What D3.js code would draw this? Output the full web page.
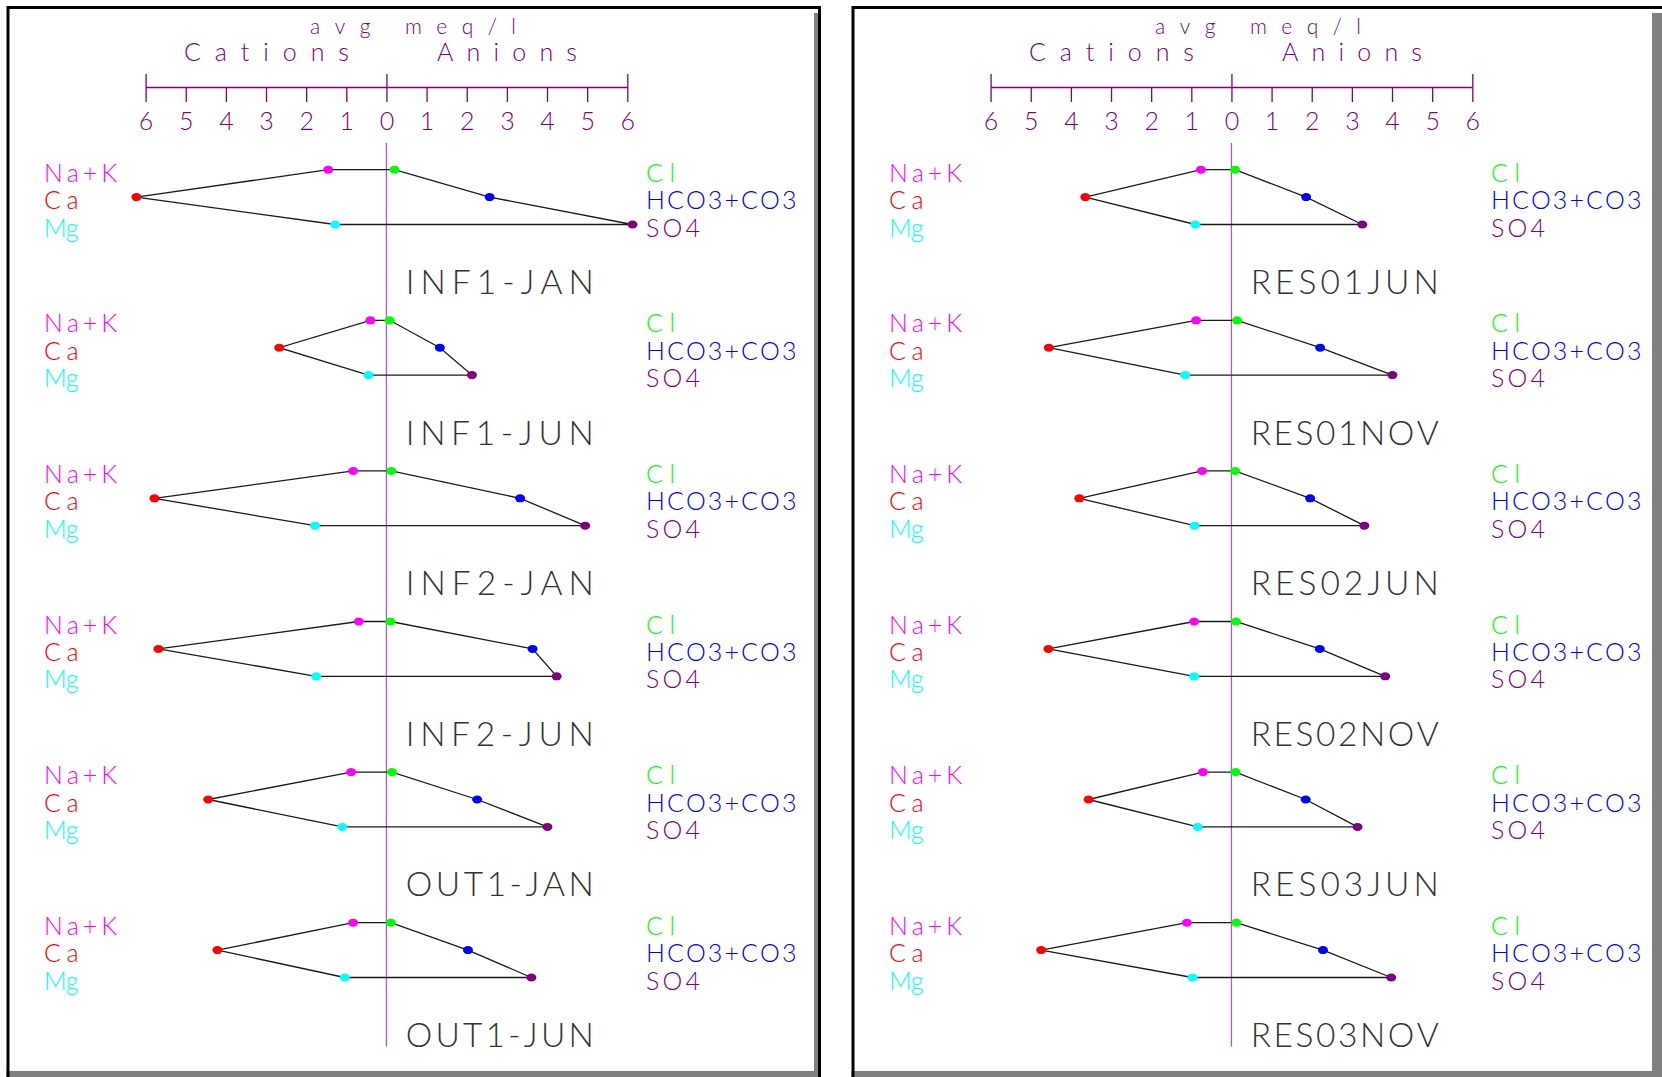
<!DOCTYPE html>
<html>
<head>
<meta charset="utf-8">
<script src="https://cdn.jsdelivr.net/npm/d3@7"></script>
<style>
  html, body { margin: 0; padding: 0; background: #fff; }
  svg { display: block; }
  text { font-family: "Lato", "DejaVu Sans", sans-serif; font-weight: 300; font-variant-ligatures: none; font-feature-settings: "liga" 0, "kern" 0; }
</style>
</head>
<body>
<script>
// Sample names, one list per panel (top to bottom)
const leftSamples  = ["INF1-JAN", "INF1-JUN", "INF2-JAN", "INF2-JUN", "OUT1-JAN", "OUT1-JUN"];
const rightSamples = ["RES01JUN", "RES01NOV", "RES02JUN", "RES02NOV", "RES03JUN", "RES03NOV"];

// Average concentrations, meq/l (left panel samples, then right panel samples)
const naK  = [1.45, 0.40, 0.83, 0.69, 0.88, 0.83,   0.76, 0.88, 0.73, 0.93, 0.71, 1.11];
const ca   = [6.23, 2.67, 5.78, 5.68, 4.44, 4.21,   3.64, 4.55, 3.79, 4.56, 3.56, 4.74];
const mg   = [1.28, 0.45, 1.78, 1.75, 1.10, 1.04,   0.90, 1.15, 0.92, 0.93, 0.84, 0.97];
const cl   = [0.20, 0.08, 0.12, 0.10, 0.14, 0.11,   0.09, 0.14, 0.09, 0.11, 0.10, 0.12];
const hco3 = [2.57, 1.33, 3.33, 3.64, 2.26, 2.03,   1.86, 2.21, 1.96, 2.20, 1.85, 2.28];
const so4  = [6.13, 2.13, 4.95, 4.24, 4.01, 3.61,   3.26, 4.01, 3.31, 3.83, 3.14, 3.98];

// Axis ticks (cations to the left, anions to the right)
const tickValues = [-6, -5, -4, -3, -2, -1, 0, 1, 2, 3, 4, 5, 6];
const majorTicks = [-6, 0, 6];

// Ion labels and colours
const cationLabels = ["Na+K", "Ca", "Mg"];
const anionLabels  = ["Cl", "HCO3+CO3", "SO4"];
const cationColors = ["#ff00ff", "#ff0000", "#00ffff"];
const anionColors  = ["#00ff00", "#0000ff", "#800080"];
const levels = ["top", "mid", "bot"];

const W = 1662, H = 1077;
const axisColor = "#800080";

const svg = d3.select("body").append("svg")
  .attr("width", W).attr("height", H)
  .style("background", "#fff");

const panels = [
  { samples: leftSamples,  offset: 0, dx: 0,   right: 821,  shadowX: 814, shadowW: 5 },
  { samples: rightSamples, offset: 6, dx: 845, right: null, shadowX: 807, shadowW: 10 }
];

// Shared scales (panel-local coordinates)
const x = d3.scaleLinear().domain([-6, 6]).range([145.6, 627.3]);
const rowY = d3.scaleLinear().domain([0, 5]).range([169.7, 922.7]);
const levelY = d3.scalePoint().domain(levels).range([0, 54.8]);

const polygon = d3.line()
  .x(d => x(d[0]))
  .y(d => d[1])
  .curve(d3.curveLinearClosed);

function spacedText(sel, str, width) {
  return sel.append("text").text(str)
    .attr("textLength", width).attr("lengthAdjust", "spacing");
}

panels.forEach(p => {
  const g = svg.append("g").attr("transform", `translate(${p.dx},0)`);

  // Frame: grey shadow on the inner right and bottom, black outline
  g.append("rect").attr("x", p.shadowX).attr("y", 13)
    .attr("width", p.shadowW).attr("height", H - 13).attr("fill", "#808080");
  g.append("rect").attr("x", 6.5).attr("y", 1071)
    .attr("width", p.shadowX + p.shadowW - 6.5).attr("height", 6).attr("fill", "#808080");
  const frameRight = p.right === null ? (W - p.dx + 4) : p.right;
  g.append("path")
    .attr("d", `M8,${H} L8,7.5 L${frameRight - 1.5},7.5 L${frameRight - 1.5},${H}`)
    .attr("fill", "none").attr("stroke", "#000").attr("stroke-width", 3);

  // Header texts
  spacedText(g, "avg meq/l", 206)
    .attr("x", 310).attr("y", 33.5).attr("font-size", 21)
    .attr("fill", axisColor);
  spacedText(g, "Cations", 165)
    .attr("x", 184).attr("y", 61).attr("font-size", 25)
    .attr("fill", axisColor);
  spacedText(g, "Anions", 140)
    .attr("x", 437).attr("y", 61).attr("font-size", 25)
    .attr("fill", axisColor);

  // meq/l axis
  const axis = d3.axisBottom(x)
    .tickValues(tickValues)
    .tickFormat(d => Math.abs(d))
    .tickSize(15)
    .tickSizeOuter(0);
  const ag = g.append("g").attr("transform", "translate(0,87)").call(axis);
  ag.select(".domain").attr("stroke", axisColor).attr("stroke-width", 1.6);
  ag.selectAll(".tick line")
    .attr("stroke", axisColor).attr("stroke-width", 1.3)
    .attr("y1", d => majorTicks.includes(d) ? -13 : 0);
  ag.selectAll(".tick text")
    .attr("fill", axisColor)
    .attr("font-family", "Lato, 'DejaVu Sans', sans-serif")
    .attr("font-weight", 300)
    .attr("font-size", 25)
    .attr("y", 43).attr("dy", 0);

  // Zero line through all diagrams
  g.append("line")
    .attr("x1", x(0)).attr("x2", x(0))
    .attr("y1", 143).attr("y2", 1046.5)
    .attr("stroke", "#b05ab8").attr("stroke-width", 1.3);

  // One diagram per sample
  p.samples.forEach((name, r) => {
    const i = p.offset + r;
    const y0 = rowY(r);
    const yt = y0 + levelY("top"), ym = y0 + levelY("mid"), yb = y0 + levelY("bot");

    const verts = [
      [-naK[i], yt], [cl[i], yt], [hco3[i], ym],
      [so4[i], yb], [-mg[i], yb], [-ca[i], ym]
    ];
    const vertColors = [cationColors[0], anionColors[0], anionColors[1],
                        anionColors[2], cationColors[2], cationColors[1]];

    g.append("path")
      .attr("d", polygon(verts))
      .attr("fill", "none").attr("stroke", "#1a1a1a").attr("stroke-width", 1.3);

    g.selectAll(null).data(verts).enter().append("ellipse")
      .attr("cx", d => x(d[0])).attr("cy", d => d[1])
      .attr("rx", 5).attr("ry", 4)
      .attr("fill", (d, k) => vertColors[k]);

    // Ion labels
    cationLabels.forEach((lab, k) => {
      spacedText(g, lab, 19.3 * lab.length - 4)
        .attr("x", 44).attr("y", y0 + levelY(levels[k]) + 12)
        .attr("font-size", 25)
        .attr("fill", cationColors[k]);
    });
    anionLabels.forEach((lab, k) => {
      spacedText(g, lab, lab === "Cl" ? 29 : 19.3 * lab.length - 4)
        .attr("x", 646).attr("y", y0 + levelY(levels[k]) + 12)
        .attr("font-size", 25)
        .attr("fill", anionColors[k]);
    });

    // Sample name
    spacedText(g, name, 188)
      .attr("x", x(0) + 19.3).attr("y", y0 + 124.3)
      .attr("font-size", 33.5)
      .attr("fill", "#333");
  });
});
</script>
</body>
</html>
